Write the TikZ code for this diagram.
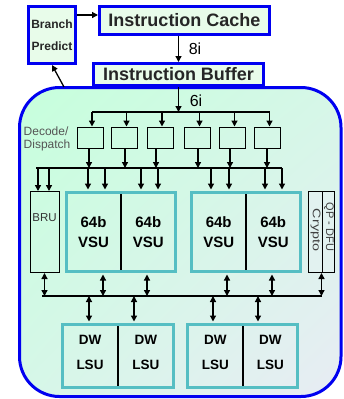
\documentclass[tikz,border=0pt]{standalone}
\usepackage{fontspec}
\setmainfont{Liberation Sans}
\usetikzlibrary{arrows.meta,calc,shadings}
\definecolor{bblue}{RGB}{0,0,240}
\definecolor{boxfill}{RGB}{232,252,234}
\definecolor{teal2}{RGB}{85,190,195}
\definecolor{bgA}{RGB}{198,255,220}
\definecolor{bgB}{RGB}{214,247,232}
\definecolor{bgC}{RGB}{232,236,244}
\definecolor{graytext}{RGB}{85,85,85}
\definecolor{cryfill}{RGB}{226,242,240}
\begin{document}
\begin{tikzpicture}[x=1pt,y=-1pt,
  bluebox/.style={draw=bblue,line width=3pt,fill=boxfill,inner sep=0pt,text=black!85},
  decbox/.style={draw=black,line width=1pt,minimum width=26pt,minimum height=21pt,inner sep=0pt},
  unitbox/.style={draw=black,line width=1pt,inner sep=0pt},
  tealbox/.style={draw=teal2,line width=3pt,inner sep=0pt},
  divider/.style={draw=black,line width=1.3pt},
  arr/.style={line width=1.3pt,-{Triangle[length=6pt,width=6pt]}},
  darr/.style={line width=1.3pt,{Triangle[length=6pt,width=6pt]}-{Triangle[length=6pt,width=6pt]}},
  bus/.style={line width=2.3pt},
  vsutext/.style={align=center,inner sep=0pt,font=\fontsize{15}{20}\selectfont\bfseries},
  lsutext/.style={align=center,inner sep=0pt,font=\fontsize{13.5}{25}\selectfont\bfseries},
  numtext/.style={inner sep=0pt,font=\fontsize{16}{18}\selectfont}]
\useasboundingbox (0,0) rectangle (343,399);
% main rounded region
\shade[upper left=bgA,upper right=bgB,lower left=bgB,lower right=bgC,rounded corners=40pt]
  (19.5,87.5) rectangle (341,396.5);
\draw[bblue,line width=3pt,rounded corners=40pt] (19.5,87.5) rectangle (341,396.5);
% top boxes
\node[bluebox,minimum width=47pt,minimum height=57pt,align=center,
  font=\fontsize{12}{22}\selectfont\bfseries] (bp) at (52,35) {Branch\\Predict};
\node[bluebox,minimum width=170pt,minimum height=28pt,
  font=\fontsize{18}{20}\selectfont\bfseries] (ic) at (184.5,20.5) {Instruction Cache};
\node[bluebox,minimum width=170pt,minimum height=22pt,
  font=\fontsize{18}{20}\selectfont\bfseries] (ib) at (178.5,74.5) {Instruction Buffer};
\coordinate (yA) at (0,15);
\coordinate (blobpt) at (64,87);
\coordinate (b1) at (0,112);
\coordinate (b2) at (0,168);
\coordinate (b3) at (0,296);
\draw[arr] (bp.east |- yA) -- (ic.west |- yA);
\draw[arr] (ic.south -| ib.north) -- (ib.north);
\node[numtext] (l8) at (195,49) {8i};
\draw[arr] (blobpt) -- (bp.south);
\draw[arr] (ib.south) -- (ib.south |- b1);
\node[numtext] (l6) at (196,100.5) {6i};
% decode boxes
\foreach \i/\x in {1/90,2/124.5,3/160,4/197.5,5/232.5,6/267.5}
  \node[decbox] (d\i) at (\x,137.5) {};
\node[anchor=west,align=left,inner sep=0pt,text=graytext,
  font=\fontsize{12}{12.5}\selectfont] (dd) at (23.5,139) {Decode/\\Dispatch};
\draw[bus] ([xshift=2pt]d1.north |- b1) -- ([xshift=2pt]d6.north |- b1);
\foreach \i in {1,...,6}
  \draw[arr] ([xshift=2pt]d\i.north |- b1) -- ([xshift=2pt]d\i.north);
\foreach \i/\s in {1/-1,2/0.5,3/-4,4/0.5,5/-2.5,6/-0.5}
  \draw[arr] ([xshift=\s pt]d\i.south) -- ([xshift=\s pt]d\i.south |- b2);
% execution units
\node[unitbox,minimum width=29pt,minimum height=81pt] (bru) at (44.5,232) {};
\node[inner sep=0pt,text=black!80,font=\fontsize{11.5}{13}\selectfont] (brut) at (44.5,218) {BRU};
\draw[divider,shorten >=1.5pt,shorten <=1.5pt] (121,192.5) -- (121,271.5);
\draw[divider,shorten >=1.5pt,shorten <=1.5pt] (246,192.5) -- (246,271.5);
\node[tealbox,minimum width=109pt,minimum height=79pt] (vsuA) at (121,232) {};
\node[tealbox,minimum width=109pt,minimum height=79pt] (vsuB) at (246,232) {};
\node[vsutext] (v1) at (93.5,232) {64b\\VSU};
\node[vsutext] (v2) at (148.3,232) {64b\\VSU};
\node[vsutext] (v3) at (218.7,232) {64b\\VSU};
\node[vsutext] (v4) at (273.2,232) {64b\\VSU};
\node[unitbox,minimum width=26pt,minimum height=81pt,fill=cryfill] (cry) at (321.5,232) {};
\draw[line width=1pt] ([xshift=1pt]cry.north) -- ([xshift=1pt]cry.south);
\node[rotate=-90,inner sep=0pt,text=black!75,font=\fontsize{11}{12}\selectfont] (cryt) at (315.5,230)
  {\scalebox{1.3}[1]{Crypto}};
\node[rotate=-90,inner sep=0pt,text=black!75,font=\fontsize{11}{12}\selectfont] (qpt) at (328.8,227)
  {QP - DFU};
% bus 2 to units
\draw[bus] ([xshift=-8.5pt]bru.north |- b2) -- ([xshift=36pt]vsuB.north |- b2);
\foreach \dx in {-6.5,4.5}
  \draw[arr] ([xshift=\dx pt]bru.north |- b2) -- ([xshift=\dx pt]bru.north);
\foreach \dx in {-33,-16,20,37}
  \draw[arr,shorten >=1.5pt] ([xshift=\dx pt]vsuA.north |- b2) -- ([xshift=\dx pt]vsuA.north);
\foreach \dx in {-35,-17,19,36}
  \draw[arr,shorten >=1.5pt] ([xshift=\dx pt]vsuB.north |- b2) -- ([xshift=\dx pt]vsuB.north);
% bus 3
\draw[bus] ([xshift=-2.5pt]bru.south |- b3) -- (cry.south |- b3);
\draw[darr] (bru.south) -- (bru.south |- b3);
\foreach \dx in {-18,26}
  \draw[darr,shorten <=1.5pt] ([xshift=\dx pt]vsuA.south) -- ([xshift=\dx pt]vsuA.south |- b3);
\foreach \dx in {-19,26}
  \draw[darr,shorten <=1.5pt] ([xshift=\dx pt]vsuB.south) -- ([xshift=\dx pt]vsuB.south |- b3);
\draw[darr] (cry.south) -- (cry.south |- b3);
% LSUs
\draw[divider,shorten >=1.5pt,shorten <=1.5pt] (118,324.5) -- (118,387.5);
\draw[divider,shorten >=1.5pt,shorten <=1.5pt] (243,324.5) -- (243,387.5);
\node[tealbox,minimum width=111pt,minimum height=63pt] (lsuA) at (118,356) {};
\node[tealbox,minimum width=110pt,minimum height=63pt] (lsuB) at (242.5,356) {};
\node[lsutext] (s1) at (90,352.5) {DW\\LSU};
\node[lsutext] (s2) at (145.8,352.5) {DW\\LSU};
\node[lsutext] (s3) at (215.3,352.5) {DW\\LSU};
\node[lsutext] (s4) at (270.3,352.5) {DW\\LSU};
\foreach \dx in {-29,16}
  \draw[darr,shorten >=1.5pt] ([xshift=\dx pt]lsuA.north |- b3) -- ([xshift=\dx pt]lsuA.north);
\foreach \dx in {-29.5,15.5}
  \draw[darr,shorten >=1.5pt] ([xshift=\dx pt]lsuB.north |- b3) -- ([xshift=\dx pt]lsuB.north);
\end{tikzpicture}
\end{document}
